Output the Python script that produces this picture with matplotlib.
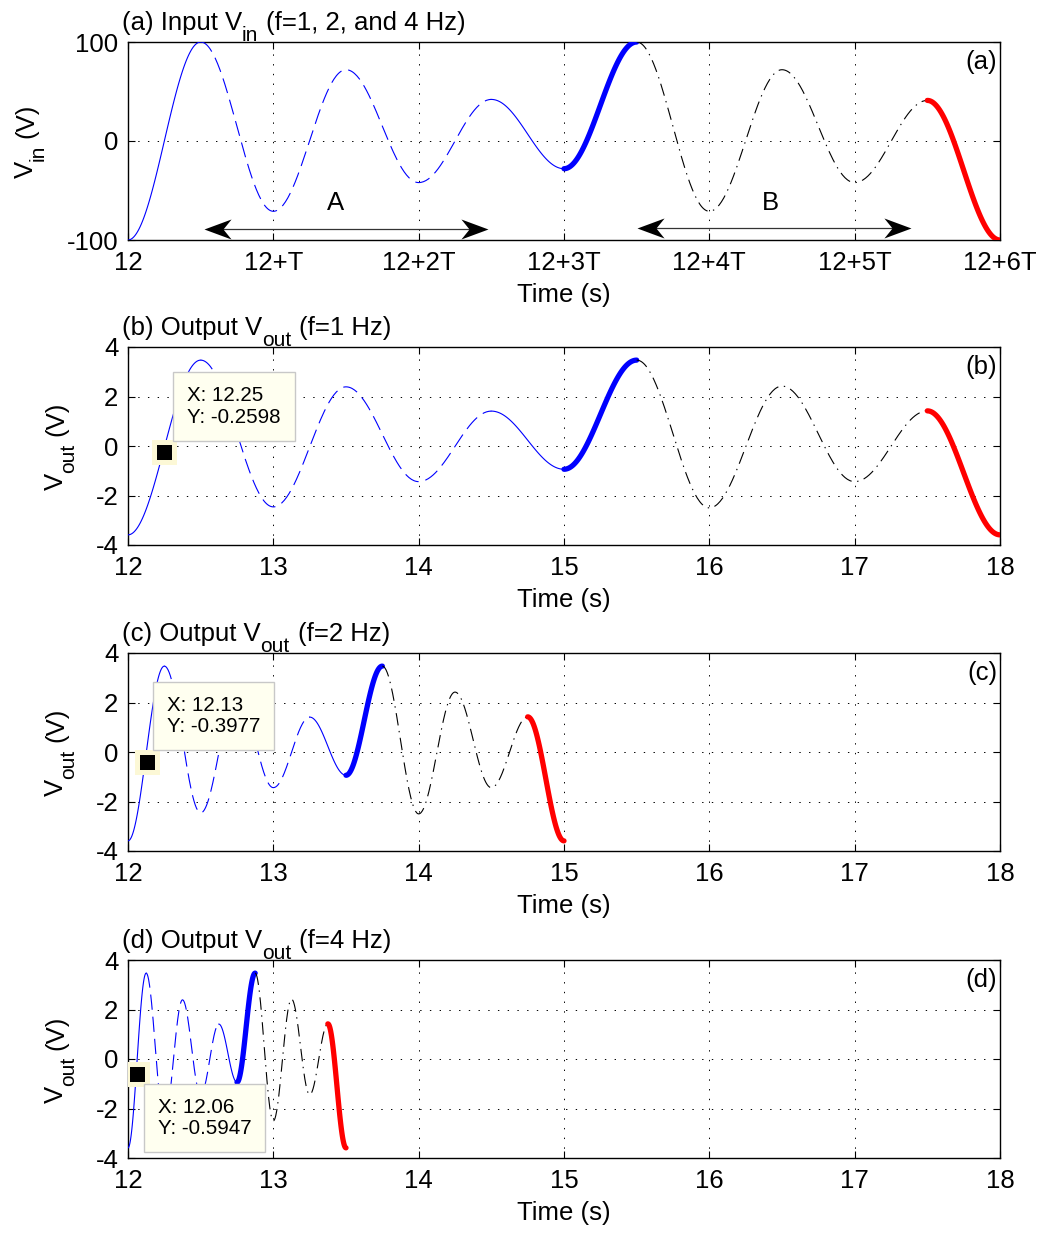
import numpy as np
import matplotlib
matplotlib.use("Agg")
import matplotlib.pyplot as plt
from matplotlib.path import Path
from matplotlib.transforms import offset_copy

plt.rcParams['font.family'] = ['Liberation Sans', 'DejaVu Sans']
plt.rcParams['axes.unicode_minus'] = False
plt.rcParams['lines.scale_dashes'] = False

# peaks and troughs of the waveform, every half period (t in units of T)
t_ext = [0, 0.5, 1, 1.5, 2, 2.5, 3, 3.5, 4, 4.5, 5, 5.5, 6]
vin_ext = [-100, 100, -71, 72, -42, 42, -28, 100, -71, 72, -42, 41, -100]
vout_ext = [-3.59, 3.47, -2.46, 2.39, -1.44, 1.41, -0.94, 3.47, -2.50, 2.42, -1.44, 1.42, -3.59]

freqs = [1, 2, 4]
t0 = 12

# data tips shown on the output panels
tip_x = [12.25, 12.13, 12.06]
tip_y = [-0.2598, -0.3977, -0.5947]

xtick_a = ['12', '12+T', '12+2T', '12+3T', '12+4T', '12+5T', '12+6T']

FS = 18.5
SUB = 15


def waveform(ext_t, ext_v, n=60):
    # smooth half-cosine swing between consecutive extrema
    tt, vv = [], []
    for i in range(len(ext_t) - 1):
        f = np.linspace(0, 1, n, endpoint=False)
        tt.append(ext_t[i] + (ext_t[i + 1] - ext_t[i]) * f)
        vv.append(ext_v[i] + (ext_v[i + 1] - ext_v[i]) * (1 - np.cos(np.pi * f)) / 2)
    tt.append([ext_t[-1]])
    vv.append([ext_v[-1]])
    return np.concatenate(tt), np.concatenate(vv)


# (start, end) in units of T, with a style for each piece
pieces = [
    (0.0, 0.5, dict(color='blue', lw=0.8, ls='-')),
    (0.5, 2.5, dict(color='blue', lw=0.8, ls=(0, (11, 5)))),
    (2.5, 3.0, dict(color='blue', lw=0.8, ls='-')),
    (3.0, 3.5, dict(color='blue', lw=3.8, ls='-', solid_capstyle='round')),
    (3.5, 5.5, dict(color='black', lw=0.8, ls=(0, (9, 4, 1, 4)))),
    (5.5, 6.0, dict(color='red', lw=3.8, ls='-', solid_capstyle='round')),
]


def draw_wave(ax, T, ext_v):
    tt, vv = waveform(t_ext, ext_v)
    for a, b, st in pieces:
        m = (tt >= a - 1e-9) & (tt <= b + 1e-9)
        ax.plot(t0 + tt[m] * T, vv[m], zorder=3, **st)


def rich_text(ax, x, y, parts, rotation=0, center=False):
    # text with tex-like subscripts: parts = [(string, is_sub, gap_px_before)]
    r = fig.canvas.get_renderer()
    items = []
    for s, sub, gap in parts:
        t = ax.text(x, y, s, transform=ax.transAxes, fontsize=SUB if sub else FS,
                    rotation=rotation, rotation_mode='anchor', ha='left', va='baseline')
        bb = t.get_window_extent(r)
        items.append((t, sub, gap, bb.height if rotation else bb.width))
    total = sum(w + g for _, _, g, w in items)
    adv = -total / 2 if center else 0
    for t, sub, gap, w in items:
        adv += gap
        drop = 11 if sub else 0
        if rotation:
            dx, dy = drop, adv
        else:
            dx, dy = adv, -drop
        t.set_transform(offset_copy(ax.transAxes, fig=fig, x=dx, y=dy, units='dots'))
        adv += w


def style_axes(ax, yticks, ylim):
    ax.set_xlim(12, 18)
    ax.set_ylim(*ylim)
    ax.set_yticks(yticks)
    ax.set_xticks(range(12, 19))
    ax.tick_params(direction='in', length=5, width=0.8, top=True, right=True,
                   labelsize=FS, pad=7)
    ax.tick_params(axis='x', pad=8)
    ax.grid(True, color='black', lw=0.7, ls=(0, (1, 6)))
    for s in ax.spines.values():
        s.set_linewidth(1.0)
    ax.set_xlabel('Time (s)', fontsize=FS)
    ax.xaxis.set_label_coords(0.5, -0.218)


fig = plt.figure(figsize=(10.42, 12.33), dpi=100)
W, H = 1042, 1233
tops = [42, 347, 653, 960]
axes = []
for top in tops:
    ax = fig.add_axes([128 / W, 1 - (top + 198) / H, 872 / W, 198 / H])
    axes.append(ax)

# (a) input voltage
ax = axes[0]
draw_wave(ax, 1, vin_ext)
style_axes(ax, [-100, 0, 100], (-100, 100))
ax.set_xticklabels(xtick_a)
rich_text(ax, -0.109, 0.5, [('V', False, 0), ('in', True, 0), ('(V)', False, 7)],
          rotation=90, center=True)
rich_text(ax, -0.007, 1.06, [('(a) Input V', False, 0), ('in', True, 0),
                             ('(f=1, 2, and 4 Hz)', False, 8)])

# double arrows A and B
head_l = Path([(0, 0), (1, 0.37), (0.7, 0), (1, -0.37), (0, 0)],
              [Path.MOVETO, Path.LINETO, Path.LINETO, Path.LINETO, Path.CLOSEPOLY])
head_r = Path([(0, 0), (-1, 0.37), (-0.7, 0), (-1, -0.37), (0, 0)],
              [Path.MOVETO, Path.LINETO, Path.LINETO, Path.LINETO, Path.CLOSEPOLY])
arrows = [(12.52, 14.48, -88.5, 'A', 13.43), (15.50, 17.39, -87.5, 'B', 16.42)]
for x1, x2, y, lab, xl in arrows:
    ax.plot([x1 + 0.1, x2 - 0.1], [y, y], color='#333333', lw=0.9, zorder=4)
    ax.plot([x1], [y], marker=head_l, ms=39, color='black', mew=0, zorder=5)
    ax.plot([x2], [y], marker=head_r, ms=39, color='black', mew=0, zorder=5)
    ax.text(xl, -63, lab, fontsize=FS, ha='center', va='center')
ax.text(0.997, 0.9, '(a)', transform=ax.transAxes, fontsize=FS, ha='right', va='center')

# (b)-(d) output voltage for each frequency
letters = ['b', 'c', 'd']
tip_off = [(23, 46), (20, 46), (21, -44)]
for i, f in enumerate(freqs):
    ax = axes[i + 1]
    draw_wave(ax, 1.0 / f, vout_ext)
    style_axes(ax, [-4, -2, 0, 2, 4], (-4, 4))
    rich_text(ax, -0.0745, 0.5, [('V', False, 0), ('out', True, 0), ('(V)', False, 7)],
              rotation=90, center=True)
    rich_text(ax, -0.007, 1.06, [('(%s) Output V' % letters[i], False, 0), ('out', True, 0),
                                 ('(f=%d Hz)' % f, False, 8)])
    ax.text(0.997, 0.9, '(%s)' % letters[i], transform=ax.transAxes, fontsize=FS,
            ha='right', va='center')
    ax.plot([tip_x[i]], [tip_y[i]], marker='s', ms=14.5, color='black',
            mec='#fcf8d6', mew=3.6, zorder=6)
    dx, dy = tip_off[i]
    ax.annotate('X: %.2f\nY: %.4f' % (tip_x[i], tip_y[i]), (tip_x[i], tip_y[i]),
                xytext=(dx * 0.72, dy * 0.72), textcoords='offset points',
                fontsize=14.8, ha='left', va='center', linespacing=1.15, zorder=7,
                bbox=dict(boxstyle='square,pad=0.68', fc='#fffff0', ec='#c8c8c8', lw=1.0))

fig.savefig('out.png', dpi=100)
